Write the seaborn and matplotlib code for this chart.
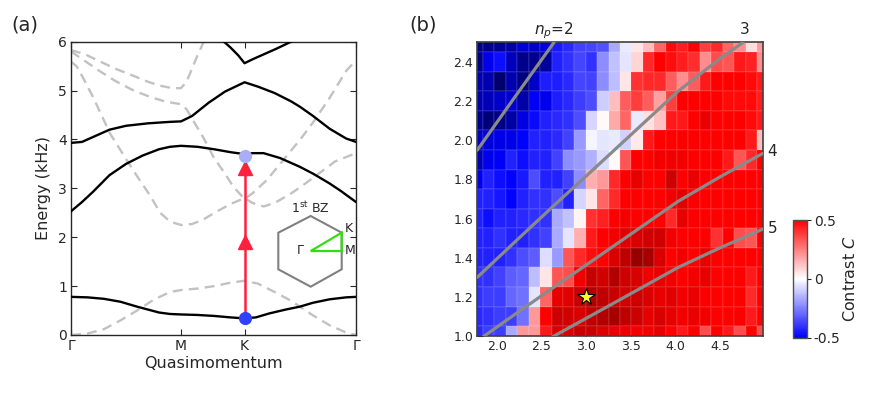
import numpy as np
import pandas as pd
import matplotlib
matplotlib.use("Agg")
import matplotlib.pyplot as plt
import seaborn as sns
from matplotlib.colors import Normalize, LinearSegmentedColormap
from matplotlib.cm import ScalarMappable
from matplotlib.patches import Polygon

# ---------------- data: panel (a) band structure ----------------
q_ticks = [0.0, 1.0, 1.577, 2.59]
q_tick_labels = ["Γ", "M", "K", "Γ"]
E_ticks = [0, 1, 2, 3, 4, 5, 6]

# solid (black) bands
b1_q = [0, 0.15, 0.3, 0.45, 0.6, 0.7, 0.8, 0.9, 1.0, 1.15, 1.3, 1.45, 1.577, 1.68, 1.8, 1.95, 2.08, 2.2, 2.35, 2.5, 2.59]
b1_E = [0.78, 0.77, 0.74, 0.68, 0.58, 0.52, 0.46, 0.43, 0.42, 0.41, 0.39, 0.36, 0.34, 0.36, 0.44, 0.52, 0.58, 0.66, 0.73, 0.77, 0.78]
b2_q = [0, 0.1, 0.2, 0.35, 0.5, 0.65, 0.8, 0.9, 1.0, 1.15, 1.3, 1.45, 1.577, 1.65, 1.75, 1.9, 2.08, 2.2, 2.35, 2.45, 2.59]
b2_E = [2.53, 2.72, 2.93, 3.27, 3.5, 3.67, 3.8, 3.85, 3.87, 3.85, 3.8, 3.74, 3.7, 3.72, 3.72, 3.62, 3.44, 3.3, 3.1, 2.95, 2.72]
b3_q = [0, 0.1, 0.2, 0.35, 0.5, 0.7, 0.9, 1.0, 1.1, 1.25, 1.4, 1.577, 1.7, 1.85, 2.0, 2.08, 2.2, 2.35, 2.5, 2.59]
b3_E = [3.93, 3.95, 4.05, 4.2, 4.28, 4.33, 4.36, 4.37, 4.48, 4.75, 4.98, 5.17, 5.08, 4.95, 4.78, 4.67, 4.48, 4.22, 4.02, 3.95]
b4_q = [1.38, 1.45, 1.52, 1.577, 1.65, 1.75, 1.87, 2.0, 2.05]
b4_E = [6.02, 5.88, 5.72, 5.56, 5.64, 5.74, 5.86, 6.0, 6.05]

# dashed (grey) bands
d0_q = [0, 0.15, 0.3, 0.45, 0.6, 0.75, 0.9, 1.0, 1.15, 1.3, 1.45, 1.577, 1.7, 1.85, 2.0, 2.08, 2.2, 2.35, 2.5, 2.59]
d0_E = [0.0, 0.03, 0.12, 0.3, 0.5, 0.72, 0.88, 0.92, 0.95, 1.0, 1.07, 1.11, 1.05, 0.88, 0.7, 0.58, 0.4, 0.2, 0.05, 0.0]
da_q = [0, 0.13, 0.26, 0.4, 0.57, 0.7, 0.81, 0.92, 1.0, 1.05, 1.1, 1.15, 1.21]
da_E = [5.83, 5.74, 5.6, 5.45, 5.3, 5.18, 5.1, 5.05, 5.05, 5.18, 5.45, 5.72, 6.02]
db_q = [0, 0.13, 0.26, 0.4, 0.57, 0.72, 0.85, 1.0, 1.05, 1.12, 1.2, 1.3, 1.4, 1.47, 1.577, 1.65, 1.78, 1.9, 2.08, 2.2, 2.35, 2.5, 2.59]
db_E = [5.8, 5.6, 5.4, 5.2, 5.0, 4.87, 4.78, 4.72, 4.62, 4.35, 4.05, 3.62, 3.3, 3.05, 2.78, 2.9, 3.17, 3.5, 3.99, 4.35, 4.85, 5.4, 5.62]
dc_q = [0, 0.05, 0.1, 0.2, 0.355, 0.5, 0.6, 0.72, 0.81, 0.9, 1.0, 1.1, 1.2, 1.32, 1.45, 1.577, 1.65, 1.75, 1.85, 1.99, 2.1, 2.25, 2.4, 2.59]
dc_E = [5.59, 5.5, 5.3, 4.87, 4.12, 3.6, 3.25, 2.85, 2.5, 2.32, 2.25, 2.27, 2.36, 2.52, 2.68, 2.8, 2.7, 2.63, 2.7, 2.88, 3.05, 3.3, 3.55, 3.72]

arrow_q = 1.577
arrow_E_start = 0.34
arrow_E_end = 3.67
arrowhead_E = [1.9, 3.42]

# ---------------- data: panel (b) contrast map ----------------
V0_cols = [1.78, 1.91, 2.04, 2.16, 2.29, 2.42, 2.55, 2.68, 2.80, 2.93, 3.06, 3.19, 3.32,
           3.44, 3.57, 3.70, 3.83, 3.96, 4.08, 4.21, 4.34, 4.47, 4.60, 4.72, 4.85, 4.98]
Omega_rows = [2.5, 2.4, 2.3, 2.2, 2.1, 2.0, 1.9, 1.8, 1.7, 1.6, 1.5, 1.4, 1.3, 1.2, 1.1, 1.0]
contrast_rows = [
    [-0.85, -0.82, -0.8, -0.75, -0.62, -0.65, -0.6, -0.45, -0.42, -0.37, -0.36, -0.34, -0.17, -0.04, 0.05, 0.13, 0.3, 0.48, 0.44, 0.5, 0.38, 0.42, 0.3, 0.22, 0.07, 0.2],
    [-0.82, -0.55, -0.47, -0.68, -0.82, -0.82, -0.78, -0.43, -0.4, -0.36, -0.4, -0.22, -0.12, -0.05, 0.08, 0.42, 0.5, 0.47, 0.44, 0.41, 0.22, 0.35, 0.33, 0.45, 0.43, 0.22],
    [-0.72, -0.72, -0.9, -0.72, -0.85, -0.65, -0.44, -0.44, -0.42, -0.36, -0.37, -0.22, -0.13, 0.05, 0.4, 0.42, 0.42, 0.32, 0.22, 0.32, 0.45, 0.5, 0.5, 0.5, 0.48, 0.45],
    [-0.72, -0.7, -0.65, -0.62, -0.75, -0.52, -0.55, -0.44, -0.42, -0.38, -0.35, -0.1, 0.13, 0.32, 0.38, 0.32, 0.18, 0.38, 0.5, 0.5, 0.5, 0.5, 0.48, 0.48, 0.48, 0.44],
    [-0.8, -0.88, -0.83, -0.75, -0.58, -0.48, -0.43, -0.42, -0.4, -0.35, -0.08, 0.01, 0.17, 0.3, -0.04, 0.06, 0.12, 0.45, 0.45, 0.5, 0.58, 0.5, 0.5, 0.5, 0.48, 0.45],
    [-0.65, -0.6, -0.57, -0.57, -0.5, -0.43, -0.43, -0.42, -0.37, -0.2, -0.02, -0.05, -0.04, -0.09, 0.04, 0.45, 0.5, 0.5, 0.52, 0.52, 0.5, 0.5, 0.5, 0.5, 0.45, 0.13],
    [-0.7, -0.55, -0.52, -0.43, -0.47, -0.43, -0.43, -0.37, -0.22, -0.2, -0.15, -0.07, 0.01, 0.33, 0.5, 0.5, 0.55, 0.56, 0.55, 0.5, 0.5, 0.5, 0.45, 0.33, 0.42, 0.5],
    [-0.55, -0.43, -0.47, -0.5, -0.45, -0.35, -0.43, -0.43, -0.37, -0.22, 0.16, 0.2, 0.42, 0.5, 0.6, 0.5, 0.5, 0.7, 0.5, 0.58, 0.52, 0.5, 0.5, 0.5, 0.5, 0.5],
    [-0.43, -0.43, -0.46, -0.5, -0.43, -0.4, -0.4, -0.35, -0.43, -0.08, 0.05, 0.3, 0.42, 0.5, 0.5, 0.5, 0.5, 0.55, 0.62, 0.52, 0.5, 0.5, 0.5, 0.5, 0.5, 0.5],
    [-0.43, -0.47, -0.43, -0.43, -0.42, -0.4, -0.4, -0.17, -0.12, 0.02, 0.4, 0.43, 0.5, 0.54, 0.5, 0.5, 0.5, 0.42, 0.6, 0.52, 0.5, 0.5, 0.5, 0.5, 0.5, 0.5],
    [-0.43, -0.43, -0.4, -0.43, -0.43, -0.4, -0.37, -0.17, -0.05, 0.15, 0.45, 0.5, 0.55, 0.62, 0.65, 0.68, 0.68, 0.55, 0.5, 0.5, 0.5, 0.4, 0.5, 0.35, 0.33, 0.5],
    [-0.43, -0.43, -0.43, -0.4, -0.35, -0.32, -0.07, -0.2, 0.33, 0.42, 0.47, 0.5, 0.65, 0.75, 0.9, 0.85, 0.65, 0.5, 0.55, 0.5, 0.6, 0.5, 0.5, 0.5, 0.5, 0.5],
    [-0.4, -0.4, -0.37, -0.32, -0.3, -0.13, 0.05, 0.33, 0.35, 0.55, 0.72, 0.68, 0.8, 0.7, 0.65, 0.55, 0.6, 0.55, 0.5, 0.55, 0.6, 0.5, 0.5, 0.5, 0.45, 0.5],
    [-0.4, -0.38, -0.38, -0.3, -0.28, -0.05, 0.3, 0.6, 0.62, 0.72, 0.8, 0.75, 0.72, 0.68, 0.7, 0.65, 0.6, 0.62, 0.55, 0.58, 0.52, 0.5, 0.5, 0.5, 0.42, 0.5],
    [-0.42, -0.4, -0.38, -0.38, -0.28, 0.2, 0.5, 0.7, 0.68, 0.65, 0.75, 0.8, 0.85, 0.75, 0.7, 0.6, 0.65, 0.6, 0.55, 0.58, 0.55, 0.5, 0.5, 0.52, 0.45, 0.5],
    [-0.42, -0.38, -0.38, -0.17, 0.2, 0.2, 0.45, 0.65, 0.65, 0.72, 0.72, 0.65, 0.6, 0.58, 0.55, 0.55, 0.6, 0.5, 0.45, 0.5, 0.35, 0.5, 0.45, 0.35, 0.5, 0.35],
]
V0_ticks = [2.0, 2.5, 3.0, 3.5, 4.0, 4.5]
Omega_ticks = [1.0, 1.2, 1.4, 1.6, 1.8, 2.0, 2.2, 2.4]

# resonance lines n_p = 2..5
np2_V = [1.78, 2.2, 2.64]
np2_Om = [1.95, 2.22, 2.5]
np3_V = [1.78, 2.2, 2.64, 3.0, 3.5, 4.03, 4.5, 4.76]
np3_Om = [1.30, 1.48, 1.667, 1.817, 2.027, 2.25, 2.417, 2.5]
np4_V = [1.78, 2.2, 2.64, 3.0, 3.5, 4.03, 4.5, 4.98]
np4_Om = [0.975, 1.11, 1.25, 1.3625, 1.52, 1.6875, 1.8125, 1.9325]
np5_V = [1.78, 2.2, 2.64, 3.0, 3.5, 4.03, 4.5, 4.98]
np5_Om = [0.78, 0.888, 1.0, 1.09, 1.216, 1.35, 1.45, 1.546]
star_V = 3.0
star_Om = 1.2

# ---------------- style ----------------
sns.set_style("ticks", {"xtick.direction": "in", "ytick.direction": "in"})
plt.rcParams["font.family"] = ["DejaVu Sans"]
plt.rcParams["mathtext.fontset"] = "dejavusans"
plt.rcParams["axes.unicode_minus"] = False

W, H = 871, 396
fig = plt.figure(figsize=(W / 100, H / 100), dpi=100)


def px_axes(l, t, r, b):
    return [l / W, (H - b) / H, (r - l) / W, (b - t) / H]


# ---------------- panel (a) ----------------
axa = fig.add_axes(px_axes(71, 41.7, 356, 335))
dash = (0, (4.2, 2.6))
for qq, ee in [(d0_q, d0_E), (da_q, da_E), (db_q, db_E), (dc_q, dc_E)]:
    sns.lineplot(x=qq, y=ee, ax=axa, color="#c2c2c2", lw=1.7, sort=False,
                 estimator=None, linestyle=dash, zorder=2)
for qq, ee in [(b1_q, b1_E), (b2_q, b2_E), (b3_q, b3_E), (b4_q, b4_E)]:
    sns.lineplot(x=qq, y=ee, ax=axa, color="black", lw=1.7, sort=False,
                 estimator=None, zorder=3)

red = "#ff1f3f"
axa.plot([arrow_q, arrow_q], [arrow_E_start, arrow_E_end - 0.1], color=red, lw=1.8, zorder=4)
axa.plot([arrow_q] * len(arrowhead_E), arrowhead_E, linestyle="none", marker="^",
         ms=9.5, color=red, mec=red, zorder=5)
axa.plot([arrow_q], [arrow_E_start], marker="o", ms=9.5, color="#3140ff", mec="none", zorder=6)
axa.plot([arrow_q], [arrow_E_end], marker="o", ms=9.5, color="#a9aef6", mec="none", zorder=6)

axa.set_xlim(q_ticks[0], q_ticks[-1])
axa.set_ylim(0, 6)
axa.set_xticks(q_ticks)
axa.set_xticklabels(q_tick_labels)
axa.set_yticks(E_ticks)
axa.tick_params(direction="in", top=True, right=True, length=4, width=0.8,
                labelsize=10, pad=3)
axa.set_xlabel("Quasimomentum", fontsize=11.5, labelpad=2)
axa.set_ylabel("Energy (kHz)", fontsize=11.5, labelpad=5)
for s in axa.spines.values():
    s.set_linewidth(1.0)
    s.set_visible(True)

# inset Brillouin zone (pixel-like coordinates)
axi = fig.add_axes(px_axes(270, 195, 360, 295))
axi.set_xlim(0, 90)
axi.set_ylim(0, 100)
axi.axis("off")
hexv = [(40.7, 79), (71.7, 62.3), (71.7, 25.7), (40.7, 8.3), (8.3, 25.7), (8.3, 62.3)]
axi.add_patch(Polygon(hexv, closed=True, fill=False, ec="#808080", lw=1.5))
axi.add_patch(Polygon([(40.7, 44), (71.7, 62.3), (71.7, 44)], closed=True, fill=False,
                      ec="#33dd11", lw=1.6))
axi.text(40, 87, r"1$^{\rm st}$ BZ", ha="center", va="center", fontsize=9)
axi.text(34, 44, "Γ", ha="right", va="center", fontsize=9)
axi.text(75, 66, "K", ha="left", va="center", fontsize=9)
axi.text(75, 44, "M", ha="left", va="center", fontsize=9)

# ---------------- panel (b) ----------------
ncol, nrow = len(V0_cols), len(Omega_rows)


def u_of(V):
    return (np.asarray(V) - V0_cols[0]) / (V0_cols[-1] - V0_cols[0]) * (ncol - 1) + 0.5


def v_of(O):
    return (Omega_rows[0] - np.asarray(O)) / (Omega_rows[0] - Omega_rows[-1]) * (nrow - 1) + 0.5


axb = fig.add_axes(px_axes(477.3, 42.4, 762.7, 336))
df = pd.DataFrame(contrast_rows, index=Omega_rows, columns=V0_cols)
sns.heatmap(df, ax=axb, cmap="seismic", vmin=-1, vmax=1, cbar=False,
            xticklabels=False, yticklabels=False, linewidths=0.3,
            linecolor=(1, 1, 1, 0.07))

for VV, OO in [(np2_V, np2_Om), (np3_V, np3_Om), (np4_V, np4_Om), (np5_V, np5_Om)]:
    sns.lineplot(x=u_of(VV), y=v_of(OO), ax=axb, color="#8a8a8a", lw=2.3,
                 sort=False, estimator=None, zorder=4)
axb.plot([u_of(star_V)], [v_of(star_Om)], marker="*", ms=13, mfc="#ffff30",
         mec="black", mew=0.8, zorder=5)

axb.set_xlim(0.5, ncol - 0.5)
axb.set_ylim(nrow - 0.5, 0.5)
axb.set_xticks(u_of(V0_ticks))
axb.set_xticklabels([f"{t:.1f}" for t in V0_ticks])
axb.set_yticks(v_of(Omega_ticks))
axb.set_yticklabels([f"{t:.1f}" for t in Omega_ticks], rotation=0)
axb.tick_params(direction="in", length=4, width=0.8, color="black", labelsize=9, pad=3)
axb.set_xlabel(r"Triangular lattice depth $V_0$ ($E_R$)", fontsize=11.5, labelpad=2)
axb.set_ylabel(r"Driving frequency $\mathit{\Omega}/2\pi$ (kHz)", fontsize=11.5, labelpad=5)
for s in axb.spines.values():
    s.set_visible(True)
    s.set_color("#404040")
    s.set_linewidth(1.2)

lab_kw = dict(fontsize=11, ha="center", va="center", clip_on=False)
axb.text(u_of(2.64), v_of(2.56), r"$n_p$=2", **lab_kw)
axb.text(u_of(4.78), v_of(2.565), "3", **lab_kw)
axb.text(u_of(5.09), v_of(1.945), "4", **lab_kw)
axb.text(u_of(5.09), v_of(1.55), "5", **lab_kw)

# colorbar
cax = fig.add_axes(px_axes(793.3, 220, 806.7, 337.7))
seis = plt.get_cmap("seismic")
trunc = LinearSegmentedColormap.from_list("seis_mid", seis(np.linspace(0.25, 0.75, 256)))
sm = ScalarMappable(norm=Normalize(-0.5, 0.5), cmap=trunc)
cb = fig.colorbar(sm, cax=cax, ticks=[-0.5, 0, 0.5])
cb.ax.set_yticklabels(["-0.5", "0", "0.5"])
cb.ax.tick_params(direction="out", length=3, width=0.8, labelsize=10, pad=2)
cb.outline.set_edgecolor("#505050")
cb.outline.set_linewidth(1.0)
cb.set_label(r"Contrast $C$", fontsize=11.5, labelpad=1)

fig.text(25 / W, 1 - 25 / H, "(a)", fontsize=14, ha="center", va="center")
fig.text(423 / W, 1 - 25 / H, "(b)", fontsize=14, ha="center", va="center")

fig.savefig("out.png", dpi=100)
